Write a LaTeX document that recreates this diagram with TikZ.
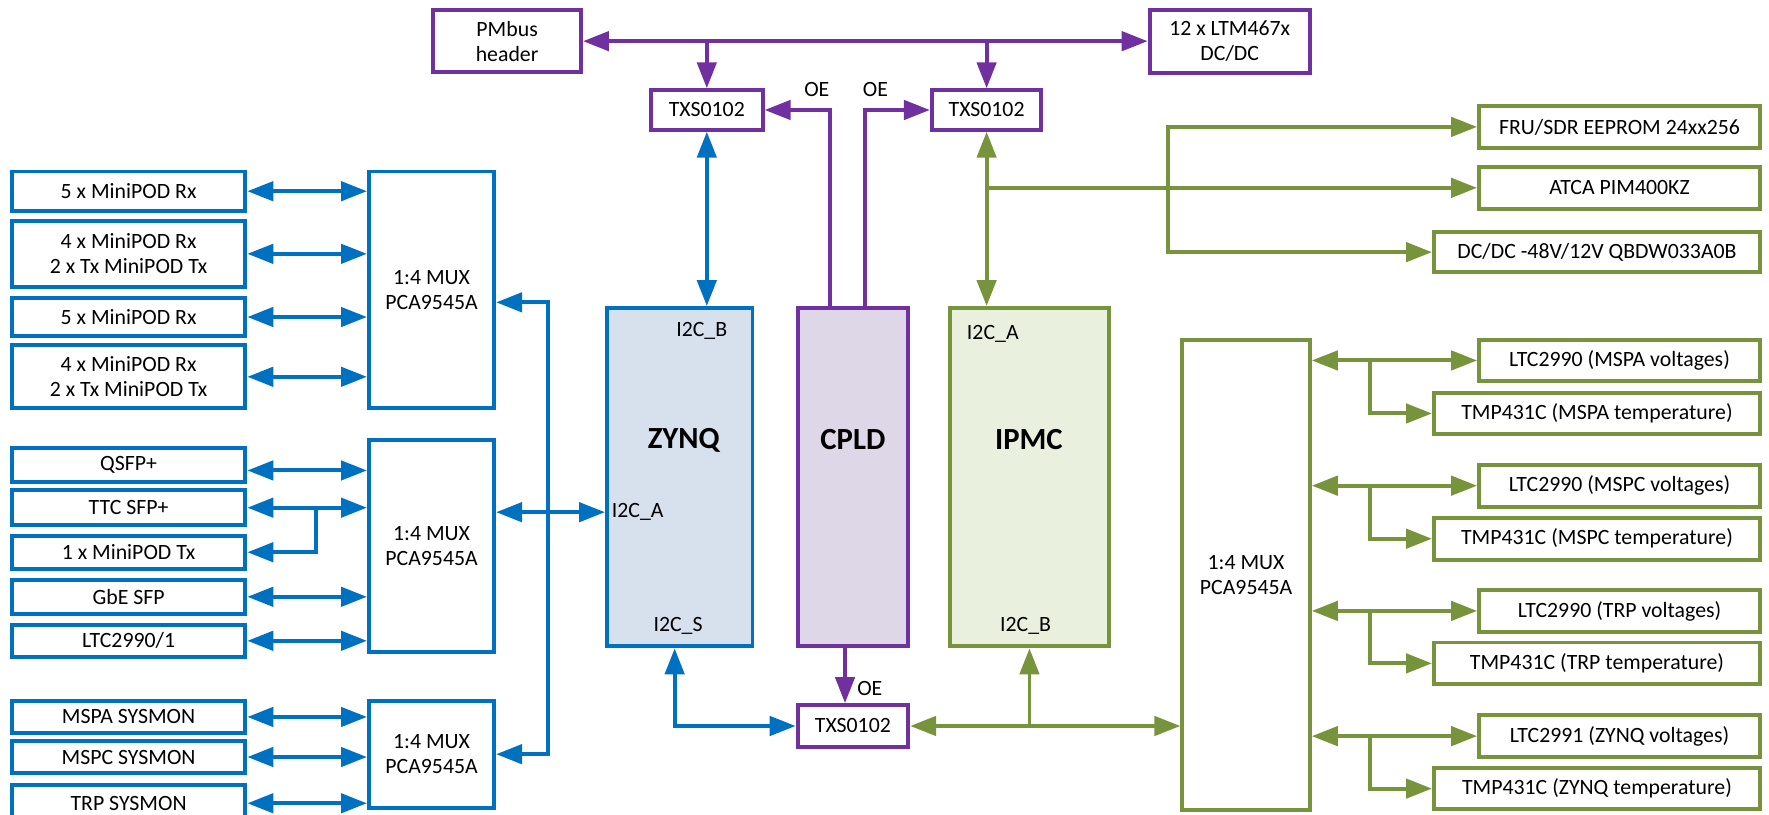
\documentclass[tikz,border=0pt]{standalone}
\usepackage{fontspec}
\setmainfont{Carlito}
\usetikzlibrary{arrows.meta}
\definecolor{zblue}{RGB}{0,112,192}
\definecolor{zpurple}{RGB}{112,48,160}
\definecolor{zgreen}{RGB}{119,147,60}
\definecolor{zynqfill}{RGB}{215,224,237}
\definecolor{cpldfill}{RGB}{222,215,231}
\definecolor{ipmcfill}{RGB}{234,240,222}
\begin{document}
\begin{tikzpicture}[
    x=0.02cm, y=-0.02cm,
    >={Triangle[length=.46cm,width=.34cm]},
    every node/.style={font=\fontsize{11}{12.5}\selectfont,inner sep=0pt,align=center},
    bbox/.style={draw=zblue,line width=2pt,rectangle},
    pbox/.style={draw=zpurple,line width=2pt,rectangle},
    gbox/.style={draw=zgreen,line width=2pt,rectangle},
    bl/.style={draw=zblue,line width=2pt},
    pl/.style={draw=zpurple,line width=2pt},
    gl/.style={draw=zgreen,line width=2pt},
    big/.style={font=\fontsize{15.5}{18}\selectfont\bfseries}]
    \useasboundingbox (0,0) rectangle (1568,722);
    \node[pbox,minimum width=2.62cm,minimum height=1.10cm] (pmbus) at (449.5,36.5) {PMbus\\header};
    \node[pbox,minimum width=2.84cm,minimum height=1.12cm] (ltm) at (1090,36.5) {12 x LTM467x\\DC/DC};
    \node[pbox,minimum width=1.98cm,minimum height=.70cm] (txsa) at (626.5,97.5) {TXS0102};
    \node[pbox,minimum width=1.94cm,minimum height=.70cm] (txsb) at (874.5,97.5) {TXS0102};
    \node[pbox,minimum width=1.96cm,minimum height=.74cm] (txsc) at (756,643.5) {TXS0102};
    \node[pbox,fill=cpldfill,minimum width=1.96cm,minimum height=6cm] (cpld) at (756,423) {};
    \node[bbox,fill=zynqfill,minimum width=2.58cm,minimum height=6cm] (zynq) at (602.5,423) {};
    \node[gbox,fill=ipmcfill,minimum width=2.82cm,minimum height=6cm] (ipmc) at (912.5,423) {};
    \node[big] (zynqtxt) at (606,390) {ZYNQ};
    \node[big] (cpldtxt) at (756,390) {CPLD};
    \node[big] (ipmctxt) at (912,390) {IPMC};
    \node (zib) at (622,293) {I2C\_B};
    \node[anchor=west] (zia) at (542,454) {I2C\_A};
    \node (zis) at (601,555) {I2C\_S};
    \node (iia) at (880,296) {I2C\_A};
    \node (iib) at (909,555) {I2C\_B};
    \node (oea) at (724,79) {OE};
    \node (oeb) at (776,79) {OE};
    \node (oec) at (771,610) {OE};
    \node[bbox,minimum width=4.14cm,minimum height=.70cm] (rxa) at (114,169.5) {5 x MiniPOD Rx};
    \node[bbox,minimum width=4.14cm,minimum height=1.16cm] (rxb) at (114,225) {4 x MiniPOD Rx\\2 x Tx MiniPOD Tx};
    \node[bbox,minimum width=4.14cm,minimum height=.68cm] (rxc) at (114,281) {5 x MiniPOD Rx};
    \node[bbox,minimum width=4.14cm,minimum height=1.12cm] (rxd) at (114,334) {4 x MiniPOD Rx\\2 x Tx MiniPOD Tx};
    \node[bbox,minimum width=2.22cm,minimum height=4.20cm] (muxa) at (382.5,257) {1:4 MUX\\PCA9545A};
    \node[bbox,minimum width=4.14cm,minimum height=.60cm] (qsfp) at (114,412) {QSFP+};
    \node[bbox,minimum width=4.14cm,minimum height=.62cm] (ttc) at (114,450) {TTC SFP+};
    \node[bbox,minimum width=4.14cm,minimum height=.58cm] (mtx) at (114,489.5) {1 x MiniPOD Tx};
    \node[bbox,minimum width=4.14cm,minimum height=.60cm] (gbe) at (114,529) {GbE SFP};
    \node[bbox,minimum width=4.14cm,minimum height=.56cm] (ltcl) at (114,568) {LTC2990/1};
    \node[bbox,minimum width=2.22cm,minimum height=3.76cm] (muxb) at (382.5,484) {1:4 MUX\\PCA9545A};
    \node[bbox,minimum width=4.14cm,minimum height=.58cm] (sma) at (114,635.5) {MSPA SYSMON};
    \node[bbox,minimum width=4.14cm,minimum height=.58cm] (smc) at (114,671) {MSPC SYSMON};
    \node[bbox,minimum width=4.14cm,minimum height=.64cm] (smt) at (114,712) {TRP SYSMON};
    \node[bbox,minimum width=2.22cm,minimum height=1.90cm] (muxc) at (382.5,668.5) {1:4 MUX\\PCA9545A};
    \node[gbox,minimum width=4.98cm,minimum height=.74cm] (fru) at (1435.5,112.5) {FRU/SDR EEPROM 24xx256};
    \node[gbox,minimum width=4.98cm,minimum height=.74cm] (atca) at (1435.5,166.5) {ATCA PIM400KZ};
    \node[gbox,minimum width=5.78cm,minimum height=.70cm] (dcdc) at (1415.5,223.5) {DC/DC -48V/12V QBDW033A0B};
    \node[gbox,minimum width=2.26cm,minimum height=8.34cm] (muxd) at (1104.5,509.5) {1:4 MUX\\PCA9545A};
    \node[gbox,minimum width=4.98cm,minimum height=.74cm] (ltca) at (1435.5,319.5) {LTC2990 (MSPA voltages)};
    \node[gbox,minimum width=5.78cm,minimum height=.74cm] (tmpa) at (1415.5,366.5) {TMP431C (MSPA temperature)};
    \node[gbox,minimum width=4.98cm,minimum height=.74cm] (ltcc) at (1435.5,430.5) {LTC2990 (MSPC voltages)};
    \node[gbox,minimum width=5.78cm,minimum height=.74cm] (tmpc) at (1415.5,477.5) {TMP431C (MSPC temperature)};
    \node[gbox,minimum width=4.98cm,minimum height=.74cm] (ltct) at (1435.5,541.5) {LTC2990 (TRP voltages)};
    \node[gbox,minimum width=5.78cm,minimum height=.74cm] (tmpt) at (1415.5,588) {TMP431C (TRP temperature)};
    \node[gbox,minimum width=4.98cm,minimum height=.74cm] (ltcz) at (1435.5,652.5) {LTC2991 (ZYNQ voltages)};
    \node[gbox,minimum width=5.78cm,minimum height=.74cm] (tmpz) at (1415.5,699) {TMP431C (ZYNQ temperature)};
    \coordinate (bus) at (486,454);
    \coordinate (ttcj) at (280,450);
    \coordinate (fork) at (1035,166.5);
    \coordinate (tap) at (1214.5,320);
    \draw[pl,<->] (pmbus.east) -- (ltm.west);
    \draw[pl,->] (txsa.north |- pmbus.east) -- (txsa.north);
    \draw[pl,->] (txsb.north |- pmbus.east) -- (txsb.north);
    \draw[pl,->] ([xshift=-.4cm]cpld.north) |- (txsa.east);
    \draw[pl,->] ([xshift=.22cm]cpld.north) |- (txsb.west);
    \draw[pl,->] ([xshift=-.14cm]cpld.south) -- ([xshift=-.14cm]txsc.north);
    \draw[bl,<->] (txsa.south) -- (txsa.south |- zynq.north);
    \draw[bl,<->] ([xshift=-.09cm]zynq.south) |- (txsc.west);
    \draw[bl,<->] (muxb.east |- zia) -- (zynq.west |- zia);
    \draw[bl,->] (bus) |- ([yshift=-.22cm]muxa.east);
    \draw[bl,->] (bus) |- (muxc.east);
    \draw[bl,<->] (rxa.east) -- (rxa.east -| muxa.west);
    \draw[bl,<->] (rxb.east) -- (rxb.east -| muxa.west);
    \draw[bl,<->] (rxc.east) -- (rxc.east -| muxa.west);
    \draw[bl,<->] (rxd.east) -- (rxd.east -| muxa.west);
    \draw[bl,<->] ([yshift=-.1cm]qsfp.east) -- ([yshift=-.1cm]qsfp.east -| muxb.west);
    \draw[bl,<->] (ttc.east) -- (ttc.east -| muxb.west);
    \draw[bl,->] (ttcj) |- (mtx.east);
    \draw[bl,<->] (gbe.east) -- (gbe.east -| muxb.west);
    \draw[bl,<->] (ltcl.east) -- (ltcl.east -| muxb.west);
    \draw[bl,<->] (sma.east) -- (sma.east -| muxc.west);
    \draw[bl,<->] (smc.east) -- (smc.east -| muxc.west);
    \draw[bl,<->] (smt.east) -- (smt.east -| muxc.west);
    \draw[gl,<->] (txsb.south) -- (txsb.south |- ipmc.north);
    \draw[gl,->] (txsb.south |- atca.west) -- (atca.west);
    \draw[gl,<->] (fru.west) -| (fork) |- (dcdc.west);
    \draw[gl,<->] (txsc.east) -- (txsc.east -| muxd.west);
    \draw[gl,->] (txsc.east -| ipmc.south) -- (ipmc.south);
    \draw[gl,<->] (muxd.east |- ltca.west) -- (ltca.west);
    \draw[gl,->] (tap |- ltca.west) |- (tmpa.west);
    \draw[gl,<->] (muxd.east |- ltcc.west) -- (ltcc.west);
    \draw[gl,->] (tap |- ltcc.west) |- (tmpc.west);
    \draw[gl,<->] (muxd.east |- ltct.west) -- (ltct.west);
    \draw[gl,->] (tap |- ltct.west) |- (tmpt.west);
    \draw[gl,<->] (muxd.east |- ltcz.west) -- (ltcz.west);
    \draw[gl,->] (tap |- ltcz.west) |- (tmpz.west);
\end{tikzpicture}
\end{document}
